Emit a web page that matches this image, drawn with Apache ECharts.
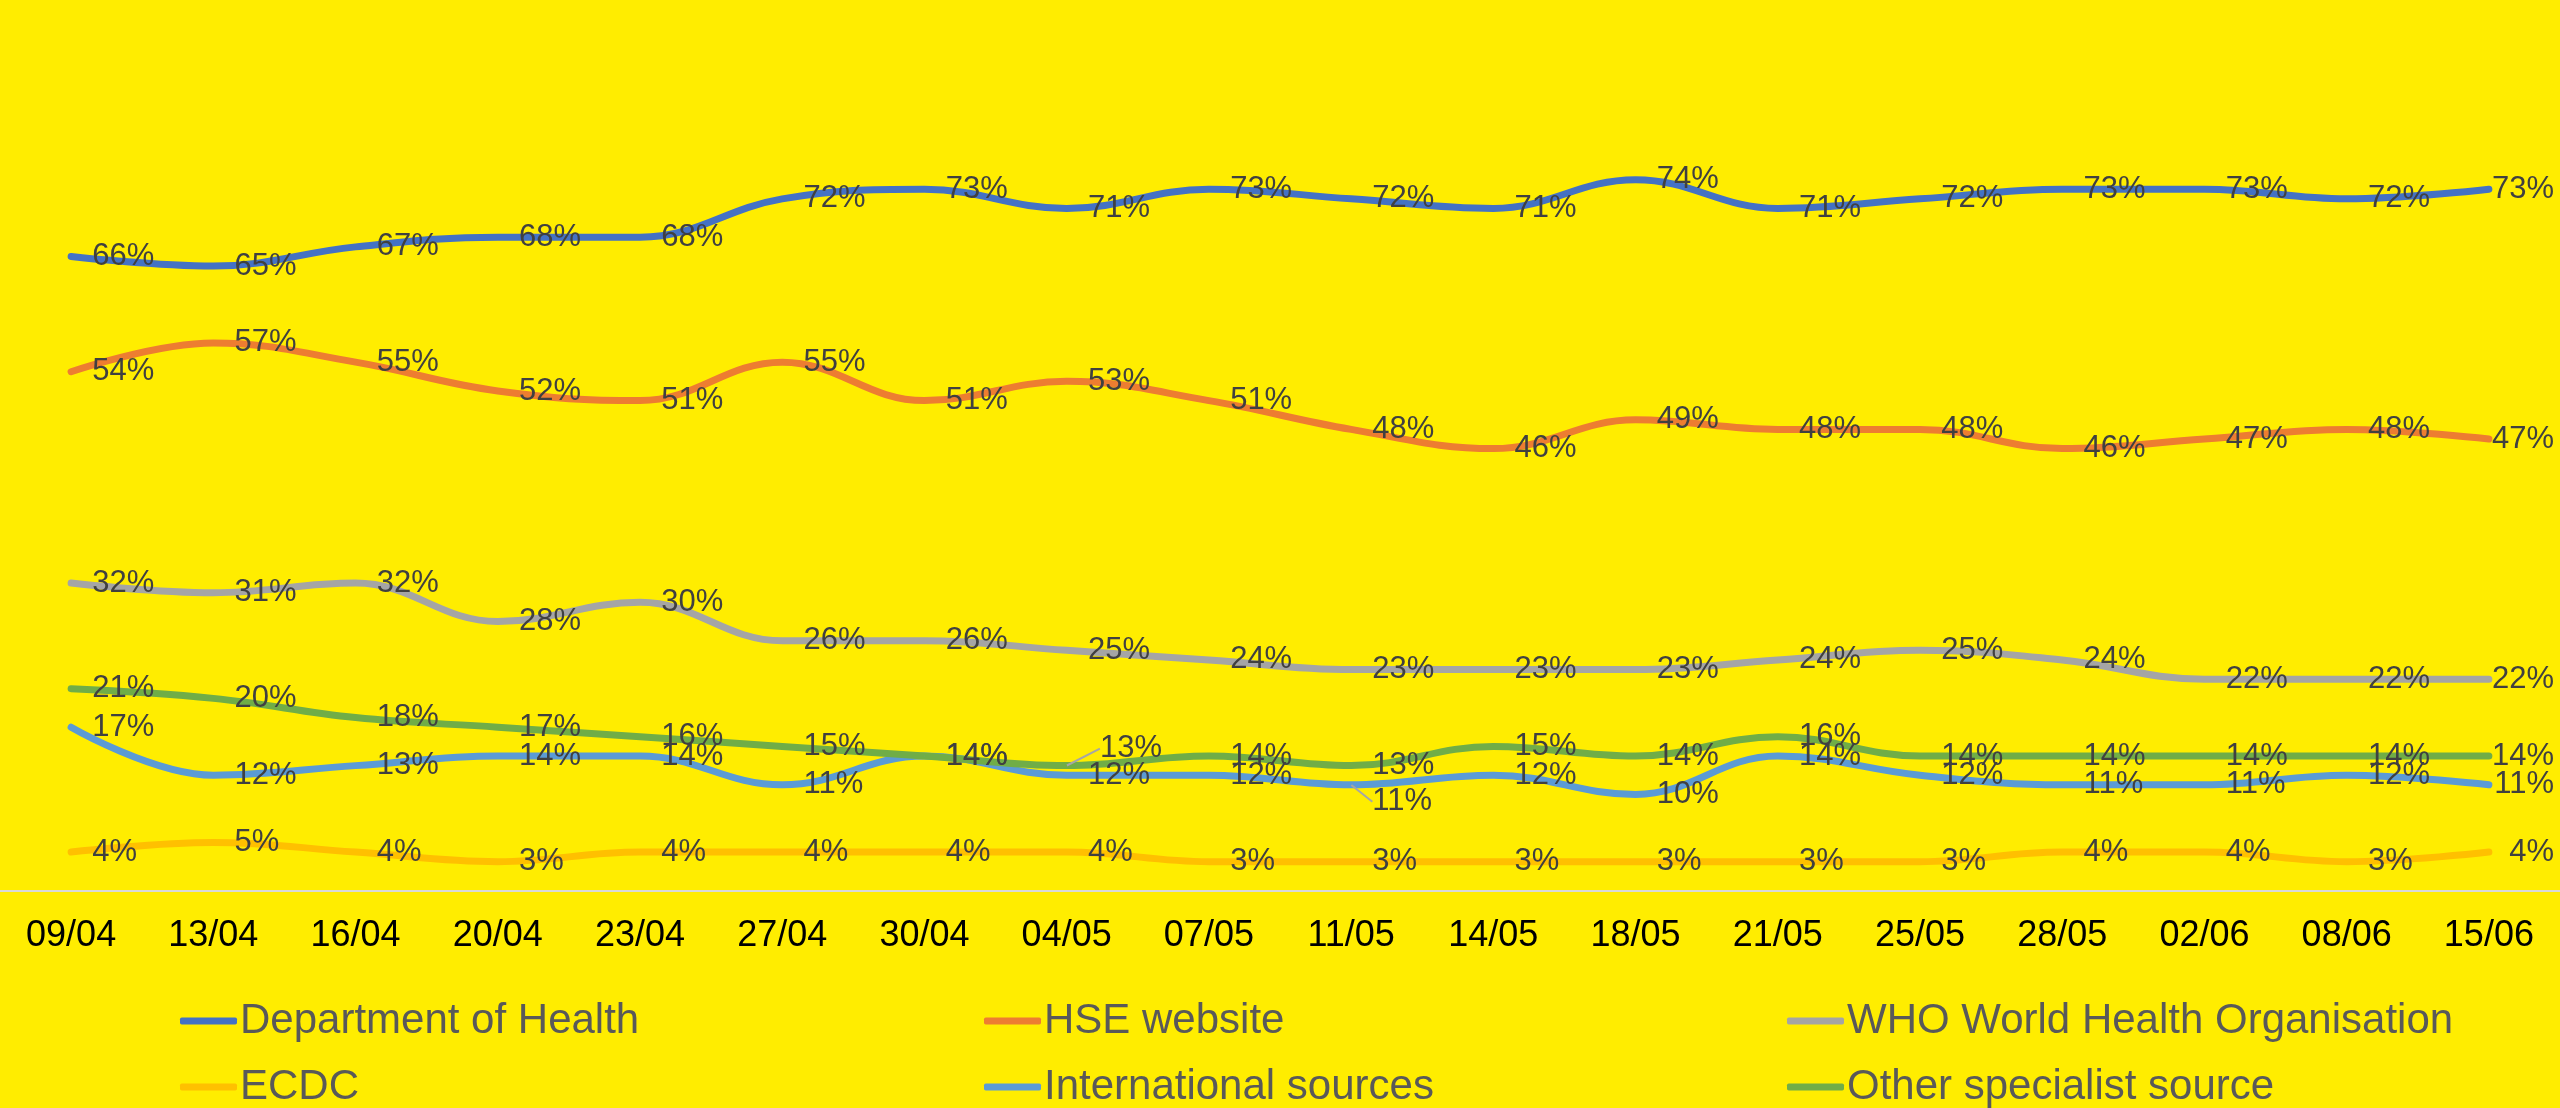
<!DOCTYPE html>
<html>
<head>
<meta charset="utf-8">
<script src="https://cdn.jsdelivr.net/npm/echarts@6/dist/echarts.min.js"></script>
<style>
html,body{margin:0;padding:0;background:#FFED00;}
#chart{width:2560px;height:1108px;}
</style>
</head>
<body>
<div id="chart"></div>
<script>
var categories = ['09/04','13/04','16/04','20/04','23/04','27/04','30/04','04/05','07/05','11/05','14/05','18/05','21/05','25/05','28/05','02/06','08/06','15/06'];
var deptHealth = [66,65,67,68,68,72,73,71,73,72,71,74,71,72,73,73,72,73];
var hseWebsite = [54,57,55,52,51,55,51,53,51,48,46,49,48,48,46,47,48,47];
var whoOrg     = [32,31,32,28,30,26,26,25,24,23,23,23,24,25,24,22,22,22];
var ecdc       = [4,5,4,3,4,4,4,4,3,3,3,3,3,3,4,4,3,4];
var international = [17,12,13,14,14,11,14,12,12,11,12,10,14,12,11,11,12,11];
var otherSpecialist = [21,20,18,17,16,15,14,13,14,13,15,14,16,14,14,14,14,14];

var seriesNames = ['Department of Health','HSE website','WHO World Health Organisation','ECDC','International sources','Other specialist source'];
var seriesData = [deptHealth, hseWebsite, whoOrg, ecdc, international, otherSpecialist];
var colors = ['#4472C4','#ED7D31','#A5A5A5','#FFC000','#5B9BD5','#70AD47'];
// manually moved labels (series index -> {dataIndex: [dx, dy]})
var movedLabels = {4: {9: [0, 17]}, 5: {7: [12, -17]}};

var FONT = '"Liberation Sans", Arial, sans-serif';
var chart = echarts.init(document.getElementById('chart'), null, {renderer: 'canvas'});

function makeSeries(i) {
  var moved = movedLabels[i] || {};
  var data = seriesData[i].map(function (v, k) {
    if (moved[k]) {
      return {value: v, labelLine: {show: true, lineStyle: {color: '#A6A6A6', width: 2}}};
    }
    return v;
  });
  return {
    name: seriesNames[i],
    type: 'line',
    smooth: 0.4,
    symbol: 'circle',
    symbolSize: 0.5,
    showSymbol: true,
    itemStyle: {color: colors[i]},
    data: data,
    color: colors[i],
    lineStyle: {width: 7, color: colors[i], cap: 'round'},
    label: {
      show: true,
      position: 'right',
      distance: 21,
      formatter: '{c}%',
      color: '#404040',
      fontSize: 31,
      fontFamily: FONT
    },
    labelLine: {show: false},
    labelLayout: function (p) {
      var m = moved[p.dataIndex];
      if (m) return {dx: m[0], dy: m[1]};
      var r = p.labelRect;
      var over = r.x + r.width - (chart.getWidth() - 6);
      if (over > 0) return {dx: -over};
      return {};
    },
    emphasis: {disabled: true},
    z: 2
  };
}

var series = [];
for (var i = 0; i < seriesNames.length; i++) series.push(makeSeries(i));

function makeLegend(left, idxs) {
  return {
    orient: 'vertical',
    left: left,
    top: 999,
    height: 160,
    padding: 0,
    data: idxs.map(function (k) { return {name: seriesNames[k], itemStyle: {color: colors[k]}}; }),
    icon: 'roundRect',
    itemWidth: 57,
    itemHeight: 7,
    itemGap: 22,
    selectedMode: false,
    textStyle: {fontSize: 42, lineHeight: 44, color: '#595959', fontFamily: FONT, padding: [0, 0, 0, -2]}
  };
}

chart.setOption({
  backgroundColor: '#FFED00',
  animation: false,
  grid: {left: 0, right: 0, top: 122, bottom: 217.5, containLabel: false},
  xAxis: {
    type: 'category',
    data: categories,
    boundaryGap: true,
    axisLine: {show: true, lineStyle: {color: '#D9D9D9', width: 2}},
    axisTick: {show: false},
    axisLabel: {color: '#000000', fontSize: 36, fontFamily: FONT, margin: 28, interval: 0}
  },
  yAxis: {
    type: 'value',
    min: 0,
    max: 80,
    interval: 10,
    show: false,
    splitLine: {show: false}
  },
  legend: [
    makeLegend(180, [0, 3]),
    makeLegend(984, [1, 4]),
    makeLegend(1787, [2, 5])
  ],
  series: series
});
</script>
</body>
</html>
